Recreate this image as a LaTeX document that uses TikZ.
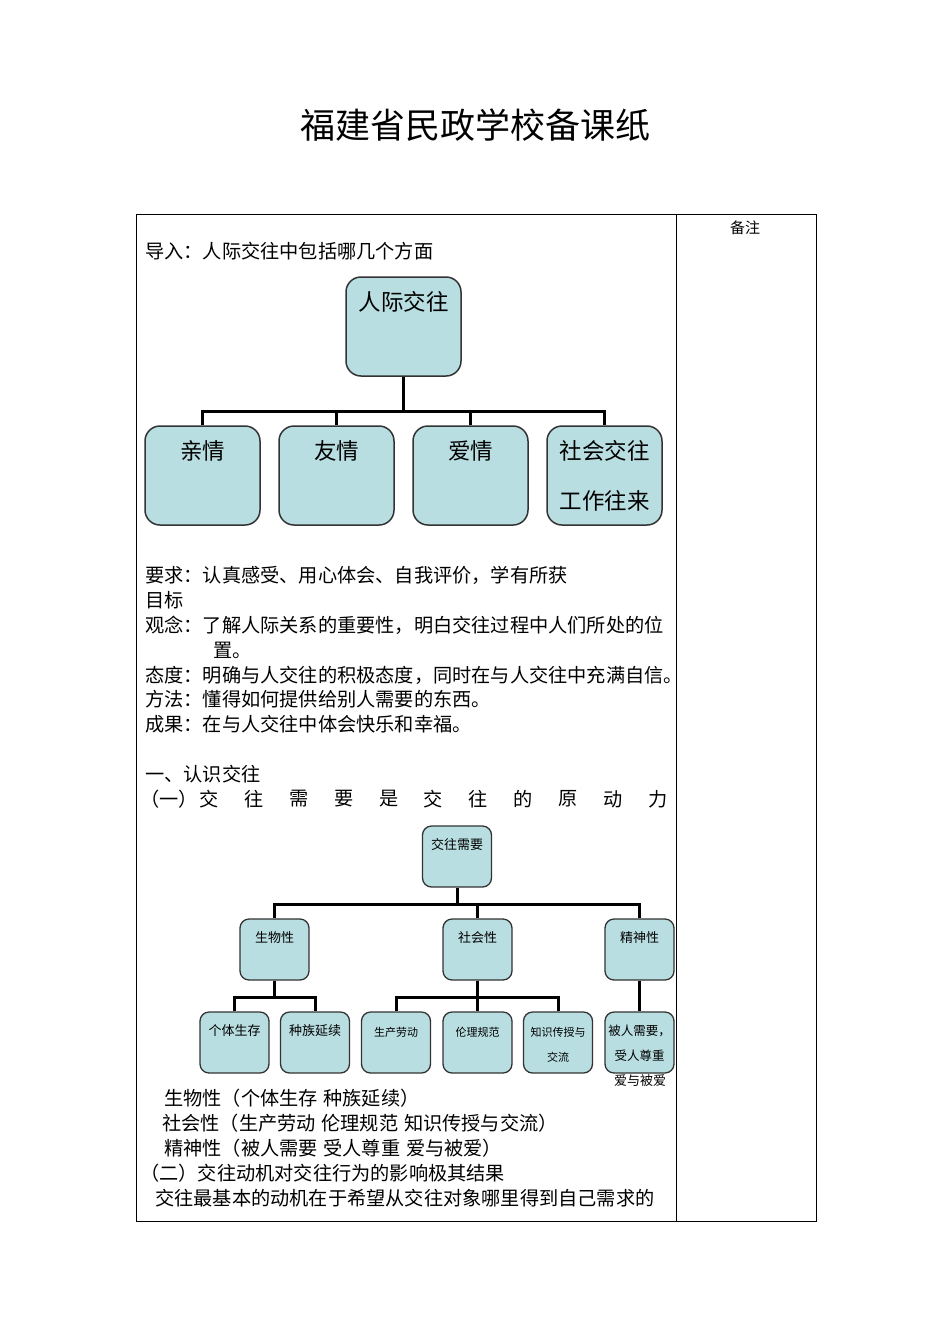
\documentclass[tikz,border=0pt]{standalone}
\usepackage{fontspec}
\setmainfont{Noto Sans CJK SC}
\usetikzlibrary{positioning}
\definecolor{boxfill}{RGB}{185,222,225}
\newcommand{\gap}{\hspace{0.3em}}

\tikzset{
    bigbox/.style={draw=black!80,line width=1.5pt,fill=boxfill,rounded corners=15pt,
        minimum width=115pt,minimum height=99pt,inner sep=0pt},
    smallbox/.style={draw=black!80,line width=1.3pt,fill=boxfill,rounded corners=9pt,
        minimum width=69pt,minimum height=61pt,inner sep=0pt},
    intext/.style={anchor=center,inner sep=0pt,align=center},
    bigtxt/.style={intext,font=\fontsize{22.5}{50}\selectfont},
    smtxt/.style={intext,font=\fontsize{13}{25}\selectfont},
    tinytxt/.style={intext,font=\fontsize{11}{25}\selectfont},
    link/.style={line width=3pt},
    txt/.style={anchor=west,inner sep=0pt,font=\fontsize{19.2}{19.2}\selectfont},
}

\begin{document}
\begin{tikzpicture}[x=1pt,y=-1pt]
    \fill[white] (0,0) rectangle (950,1344);
    \node[font=\fontsize{35}{35}\selectfont] (title) at (475,125) {福建省民政学校备课纸};
    % table
    \draw[line width=1pt] (136,214) rectangle (816,1221);
    \draw[line width=1pt] (676,214) -- (676,1221);
    \node[font=\fontsize{15}{15}\selectfont] (note) at (745,228) {备注};

    \node[txt] (intro) at (145,251) {导入：人际交往中包括哪几个方面};

    % first chart
    \node[bigbox,label={[bigtxt,yshift=-26pt]north:人际交往}] (rj) at (403.5,326.5) {};
    \foreach \n/\x/\t in {qin/202.5/亲情,you/336.5/友情,ai/470.5/爱情}{
        \node[bigbox,label={[bigtxt,yshift=-26pt]north:\t}] (\n) at (\x,475.5) {};
    }
    \node[bigbox,label={[bigtxt,yshift=-51pt]north:社会交往\\工作往来}] (she) at (604.5,475.5) {};
    \foreach \n in {qin,you,ai,she}{
        \draw[link] (rj.south) -- ++(0,35) -| (\n.north);
    }

    % goals
    \foreach \x/\y/\t [count=\i] in {145/575/{要求：认真感受、用心体会、自我评价，学有所获},
        145/600/{目标},
        145/625/{观念：了解人际关系的重要性，明白交往过程中人们所处的位},
        213/650/{置。},
        145/675/{态度：明确与人交往的积极态度，同时在与人交往中充满自信。},
        145/699/{方法：懂得如何提供给别人需要的东西。},
        145/724/{成果：在与人交往中体会快乐和幸福。},
        145/774/{一、认识交往},
        140/799/{（一）}}{
        \node[txt] (ln\i) at (\x,\y) {\t};
    }
    \foreach \c [count=\i] in {交,往,需,要,是,交,往,的,原,动,力}{
        \node[txt,anchor=center] (sp\i) at ({209+44.9*(\i-1)},799) {\c};
    }

    % second chart
    \node[smallbox,label={[smtxt,yshift=-19pt]north:交往需要}] (need) at (457,856.5) {};
    \foreach \n/\x/\t in {bio/274.5/生物性,soc/477.5/社会性,spi/639.5/精神性}{
        \node[smallbox,label={[smtxt,yshift=-19pt]north:\t}] (\n) at (\x,949.5) {};
        \draw[link] (need.south) -- ++(0,17) -| (\n.north);
    }
    \node[smallbox,label={[smtxt,yshift=-19pt]north:个体生存}] (live) at (234.5,1042.5) {};
    \node[smallbox,label={[smtxt,yshift=-19pt]north:种族延续}] (race) at (315,1042.5) {};
    \node[smallbox,label={[tinytxt,yshift=-21pt]north:生产劳动}] (work) at (396,1042.5) {};
    \node[smallbox,label={[tinytxt,yshift=-21pt]north:伦理规范}] (ethic) at (477.5,1042.5) {};
    \node[smallbox,label={[tinytxt,yshift=-33.5pt]north:知识传授与\\交流}] (know) at (558,1042.5) {};
    \node[smallbox,label={[smtxt,font=\fontsize{12.5}{25}\selectfont,yshift=-31.5pt]north:被人需要，\\受人尊重}] (want) at (639.5,1042.5) {};
    \node[smtxt] (love) at (640,1081) {爱与被爱};
    \foreach \n in {live,race}{
        \draw[link] (bio.south) -- ++(0,17) -| (\n.north);
    }
    \foreach \n in {work,ethic,know}{
        \draw[link] (soc.south) -- ++(0,17) -| (\n.north);
    }
    \draw[link] (spi.south) -- (want.north);

    % summary
    \foreach \x/\y/\t [count=\i] in {164/1098/{生物性（个体生存\gap 种族延续）},
        162/1123/{社会性（生产劳动\gap 伦理规范\gap 知识传授与交流）},
        164/1148/{精神性（被人需要\gap 受人尊重\gap 爱与被爱）},
        140/1173/{（二）交往动机对交往行为的影响极其结果},
        155/1198/{交往最基本的动机在于希望从交往对象哪里得到自己需求的}}{
        \node[txt] (sm\i) at (\x,\y) {\t};
    }
\end{tikzpicture}
\end{document}
